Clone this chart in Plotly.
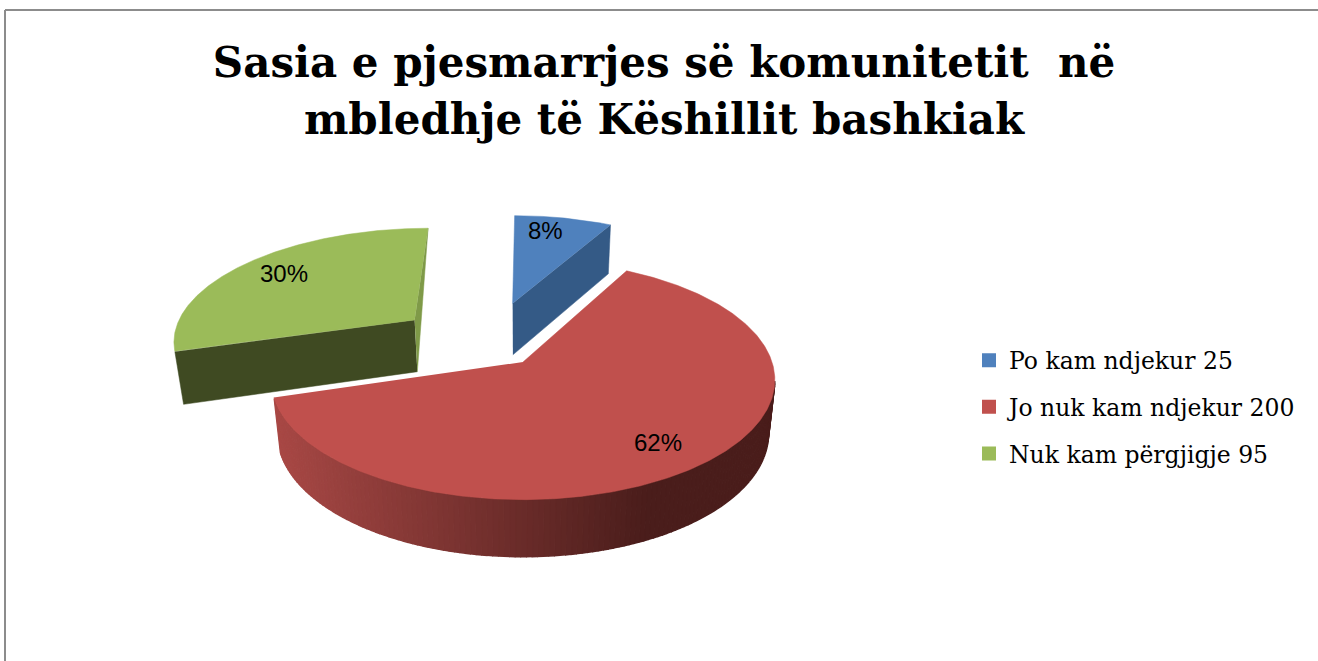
import numpy as np
import plotly.graph_objects as go

# ---- data ----
categories = ["Po kam ndjekur", "Jo nuk kam ndjekur", "Nuk kam përgjigje"]
values = [25, 200, 95]
percent_labels = ["8%", "62%", "30%"]
title_lines = ["Sasia e pjesmarrjes së komunitetit  në", "mbledhje të Këshillit bashkiak"]

# ---- styling / layout ----
top_colors = ["#4F81BD", "#C0504D", "#9BBB59"]
wall_colors = ["#345A86", None, "#3F4A22"]
side_sliver = "#7F9A48"
W, H = 1318, 661
CX, CY, A, B, K = 523, 362, 249, 117, 0.15
explode = [(-0.045, 0.54), (0.0, 0.0), (-0.46, 0.38)]
label_xy = [(545, 230), (658, 442), (284, 273)]


def project(u, v):
    f = 1 / (1 + K * v)
    return CX + A * u * f, CY - B * v * f, f


def to_screen(u, v, down=False):
    x, y, f = project(u, v)
    if down:
        return CX + (x - CX) * 0.975, y + 30 + 23 * f
    return x, y


def poly(xs, ys, color, name=None, lw=0.5):
    return go.Scatter(x=list(xs), y=list(ys), mode="lines", fill="toself", fillcolor=color,
                      line=dict(color=color, width=lw), showlegend=False,
                      hoverinfo="text", text=name, name=name or "")


def arc(offset, t0, t1, n=400):
    t = np.linspace(t0, t1, n)
    return offset[0] + np.sin(t), offset[1] + np.cos(t)


total = sum(values)
ang = np.cumsum([0] + values) / total * 2 * np.pi
fig = go.Figure()

# Back-to-front: blue, green, red
for i in [0, 2, 1]:
    off, t0, t1 = explode[i], ang[i], ang[i + 1]
    u, v = arc(off, t0, t1)
    label = f"{categories[i]} {values[i]}"
    if i == 0:  # wall on the radial edge at the end of the slice
        pu, pv = [off[0], u[-1]], [off[1], v[-1]]
        top = [to_screen(a, b) for a, b in zip(pu, pv)]
        bot = [to_screen(a, b, True) for a, b in zip(pu, pv)]
        pts = top + bot[::-1]
        fig.add_trace(poly([p[0] for p in pts], [p[1] for p in pts], wall_colors[0], label))
    if i == 2:
        # front wall on the radial edge at the start of the slice
        pu, pv = [off[0], u[0]], [off[1], v[0]]
        top = [to_screen(a, b) for a, b in zip(pu, pv)]
        bot = [to_screen(a, b, True) for a, b in zip(pu, pv)]
        pts = top + bot[::-1]
        fig.add_trace(poly([p[0] for p in pts], [p[1] for p in pts], wall_colors[2], label))
        # thin sliver on the radial edge at the end of the slice
        pu, pv = [off[0], u[-1]], [off[1], v[-1]]
        a1 = to_screen(pu[0], pv[0])
        a2 = to_screen(pu[1], pv[1])
        a3 = to_screen(pu[0], pv[0], True)
        fig.add_trace(poly([a1[0], a2[0], a3[0]], [a1[1], a2[1], a3[1]], side_sliver, label))
    if i == 1:  # curved outer wall with horizontal gradient
        sx, sy = zip(*[to_screen(a, b) for a, b in zip(u, v)])
        bx, by = zip(*[to_screen(a, b, True) for a, b in zip(u, v)])
        sx, sy, bx, by = map(np.array, (sx, sy, bx, by))
        vis = np.where(np.gradient(sx) < 0)[0]  # arc runs right to left along the front
        step = 2
        c0, c1 = np.array([168, 72, 69]), np.array([74, 29, 27])
        for j in range(vis[0], len(sx) - step, step):
            s = np.clip((650 - sx[j]) / (650 - 276), 0, 1)
            c = c1 + (c0 - c1) * s
            col = f"rgb({c[0]:.0f},{c[1]:.0f},{c[2]:.0f})"
            k = j + step
            fig.add_trace(poly([sx[j], sx[k], bx[k], bx[j]],
                               [sy[j], sy[k], by[k], by[j]], col, label, lw=1.5))
    xy = [to_screen(a, b) for a, b in zip(np.r_[off[0], u], np.r_[off[1], v])]
    fig.add_trace(poly([p[0] for p in xy], [p[1] for p in xy], top_colors[i], label))

# Native legend entries
for i in range(3):
    fig.add_trace(go.Scatter(x=[None], y=[None], mode="markers", name=f"{categories[i]} {values[i]}",
                             legendgroup=str(i),
                             marker=dict(symbol="square", size=14, color=top_colors[i])))

annotations = [dict(x=label_xy[i][0], y=label_xy[i][1], text=percent_labels[i], showarrow=False,
                    font=dict(family="Liberation Sans", size=24, color="black"))
               for i in range(3)]

fig.update_layout(
    width=W, height=H, margin=dict(l=0, r=0, t=0, b=0),
    paper_bgcolor="white", plot_bgcolor="white",
    xaxis=dict(range=[0, W], visible=False, fixedrange=True),
    yaxis=dict(range=[H, 0], visible=False, fixedrange=True),
    title=dict(text="<b><span style='font-size:42px'>" + "</span></b><br><b><span style='font-size:42px'>".join(title_lines) + "</span></b>",
               x=664 / W, xanchor="center", y=1 - 77 / H, yanchor="top",
               font=dict(family="DejaVu Serif", size=44, color="black")),
    legend=dict(x=969 / W, y=1 - 407 / H, xanchor="left", yanchor="middle", tracegroupgap=13,
                bgcolor="rgba(0,0,0,0)", font=dict(family="DejaVu Serif", size=23.5, color="black")),
    annotations=annotations,
    shapes=[
        dict(type="line", xref="paper", yref="paper", x0=5 / W, x1=1, y0=1 - 10 / H, y1=1 - 10 / H,
             line=dict(color="#8C8C8C", width=2)),
        dict(type="line", xref="paper", yref="paper", x0=5 / W, x1=5 / W, y0=0, y1=1 - 10 / H,
             line=dict(color="#8C8C8C", width=2)),
    ],
)
fig.write_html("out.html", config={"displayModeBar": False},
               post_script="document.body.style.margin='0';document.body.style.overflow='hidden';")
